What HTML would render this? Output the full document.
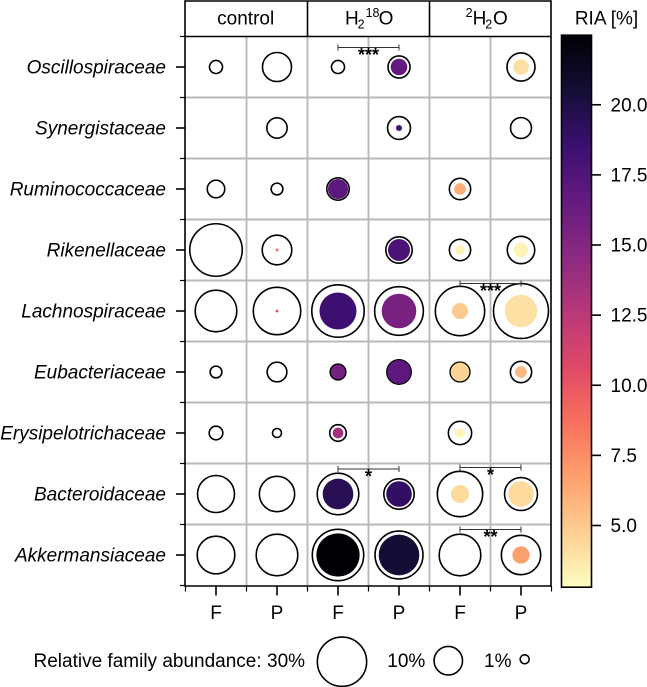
<!DOCTYPE html>
<html lang="en">
<head>
<meta charset="utf-8">
<title>Relative isotope abundance by bacterial family</title>
<style>
html,body{margin:0;padding:0;background:#fff;}
svg{display:block;font-family:"Liberation Sans",Arial,sans-serif;fill:#000;}
</style>
</head>
<body>
<svg id="chart" width="647" height="687" viewBox="0 0 647 687" xmlns="http://www.w3.org/2000/svg">
  <defs>
    <linearGradient id="magma-gradient" x1="0" y1="1" x2="0" y2="0"></linearGradient>
  </defs>
  <g id="grid"></g>
  <g id="marks"></g>
  <g id="axes"></g>
  <g>
    <line x1="185" y1="1" x2="551" y2="1" stroke="#000" stroke-width="1.6"/>
    <line x1="185" y1="36.5" x2="551" y2="36.5" stroke="#000" stroke-width="1.6"/>
    <line x1="307.5" y1="1" x2="307.5" y2="36.5" stroke="#000" stroke-width="1.6"/>
    <line x1="429.5" y1="1" x2="429.5" y2="36.5" stroke="#000" stroke-width="1.6"/>
    <text x="245.7" y="24.5" text-anchor="middle" font-size="19">control</text>
    <text font-size="19" y="24.5"><tspan x="345">H</tspan><tspan x="357.6" y="28.5" font-size="12.5">2</tspan><tspan x="365.6" y="17" font-size="12.5">18</tspan><tspan x="378.6" y="24.5">O</tspan></text>
    <text font-size="19" y="24.5"><tspan x="465.6" y="17" font-size="12.5">2</tspan><tspan x="472.6" y="24.5">H</tspan><tspan x="485.2" y="28.5" font-size="12.5">2</tspan><tspan x="493" y="24.5">O</tspan></text>
  </g>
  <g id="colorbar">
    <text x="606.5" y="24.5" text-anchor="middle" font-size="19">RIA [%]</text>
  </g>
  <g id="brackets"></g>
  <g id="legend">
    <text x="33.5" y="667" font-size="19">Relative family abundance:</text>
  </g>
</svg>
<script>
const families = ['Oscillospiraceae','Synergistaceae','Ruminococcaceae','Rikenellaceae','Lachnospiraceae','Eubacteriaceae','Erysipelotrichaceae','Bacteroidaceae','Akkermansiaceae'];
const sampleTypes = ['F','P','F','P','F','P'];
const abundance = [
  [2.1,10.4,2.1,6,null,9.7],
  [null,5.1,null,6.5,null,5.4],
  [3.8,1.7,6.2,null,5.6,null],
  [34,10.8,null,8.6,5.6,9.3],
  [21.4,27.7,33.9,29.3,30,37.3],
  [1.7,4.8,3,7.3,4.8,5.6],
  [2.3,1,3.4,null,6.7,null],
  [16.9,15.4,21.4,11.4,25.4,13.4],
  [17.5,21.4,32.6,28.4,21.4,19.1]
];
const labeledAbundance = [
  [null,null,null,3.4,null,3],
  [null,null,null,0.45,null,null],
  [0.05,null,5,null,1.7,null],
  [null,0.1,null,6,1.1,2.6],
  [null,0.1,16.9,14.8,3.2,13.1],
  [null,null,2.6,6.9,4.3,1.7],
  [null,null,1.4,null,1.2,null],
  [null,null,11.6,8.1,4,8.1],
  [null,null,23.2,20.4,null,3.7]
];
const ria = [
  [null,null,null,16.6,null,4],
  [null,null,null,18.2,null,null],
  [3,null,16.9,null,6.1,null],
  [null,8.7,null,17.8,3.2,3.2],
  [null,9.7,18.5,15.6,5,4],
  [null,null,15.8,16.8,4.6,5.75],
  [null,null,13.6,null,3.1,null],
  [null,null,19.5,19,4.3,4.3],
  [null,null,22.48,20.5,null,6.7]
];
const colorbarTicks = [5,7.5,10,12.5,15,17.5,20];
const colorbarTickLabels = ['5.0','7.5','10.0','12.5','15.0','17.5','20.0'];
const legendSizes = [30,10,1];
const legendLabels = ['30%','10%','1%'];
const sigRows = [0,4,7,7,8];
const sigStartCols = [2,4,2,4,4];
const sigEndCols = [3,5,3,5,5];
const sigLift = [0.32,0.45,0.41,0.434,0.418];
const sigStars = ['***','***','*','*','**'];
const riaMin = 2.8;
const riaMax = 22.48;
const magmaReversed = ['#fcfdbf','#fecf92','#fe9f6d','#f7705c','#de4968','#b73779','#8c2981','#641a80','#3b0f70','#140e36','#000004'];

const NS = 'http://www.w3.org/2000/svg';
const grid = document.getElementById('grid');
const marks = document.getElementById('marks');
const axes = document.getElementById('axes');
const colorbar = document.getElementById('colorbar');
const brackets = document.getElementById('brackets');
const legend = document.getElementById('legend');

function xScale(col){ return 216 + col * 61; }
function yScale(row){ return 67 + row * 61; }
function rScale(value){ return 4.5 * Math.sqrt(value); }
function cbScale(value){ return 525.5 - (value - 5) * 28.05; }
function hexToRgb(h){ return [1,3,5].map(i => parseInt(h.substr(i,2),16)); }
function colorScale(value){
  let t = (value - riaMin) / (riaMax - riaMin);
  t = Math.max(0, Math.min(1, t)) * (magmaReversed.length - 1);
  const i = Math.min(Math.floor(t), magmaReversed.length - 2);
  const f = t - i;
  const a = hexToRgb(magmaReversed[i]);
  const b = hexToRgb(magmaReversed[i + 1]);
  return 'rgb(' + a.map((c, k) => Math.round(c + (b[k] - c) * f)).join(',') + ')';
}
function make(parent, tag, attrs, text){
  const el = document.createElementNS(NS, tag);
  for (const k in attrs) el.setAttribute(k, attrs[k]);
  if (text !== undefined) el.textContent = text;
  parent.appendChild(el);
  return el;
}
function line(parent, x1, y1, x2, y2, stroke, width){
  return make(parent, 'line', {x1, y1, x2, y2, stroke, 'stroke-width': width});
}

/* grid */
for (let c = 1; c < sampleTypes.length; c++) {
  const gx = xScale(c) - 30.5;
  const el = line(grid, gx, 36.5, gx, 586, '#b9b9b9', 1.9);
  
  
}
for (let r = 1; r < families.length; r++) {
  const gy = yScale(r) - 30.5;
  const el = line(grid, 185, gy, 551, gy, '#b9b9b9', 1.9);
  
  
}

/* bubbles */
families.forEach((family, r) => {
  sampleTypes.forEach((type, c) => {
    const total = abundance[r][c];
    if (total !== null) {
      const outer = make(marks, 'circle', {cx: xScale(c), cy: yScale(r), r: rScale(total), fill: '#fff', stroke: '#000', 'stroke-width': 1.6});
      
      
    }
    const labeled = labeledAbundance[r][c];
    if (labeled !== null && ria[r][c] !== null) {
      const inner = make(marks, 'circle', {cx: xScale(c), cy: yScale(r), r: rScale(labeled), fill: colorScale(ria[r][c])});
      
      
    }
  });
});

/* axes */
const spineLeft = line(axes, 185, 0.3, 185, 586.8, '#000', 1.6);


const spineRight = line(axes, 551, 0.3, 551, 586.8, '#000', 1.6);


const spineBottom = line(axes, 185, 586, 551, 586, '#000', 1.6);



families.forEach((family, r) => {
  const tick = line(axes, 176, yScale(r), 185, yScale(r), '#000', 1.6);
  
  
  const label = make(axes, 'text', {x: 166, y: yScale(r) + 6.5, 'text-anchor': 'end', 'font-size': 19, 'font-style': 'italic'}, family);
  
  
});
for (let r = 0; r <= families.length; r++) {
  const my = yScale(r) - 30.5;
  const tick = line(axes, 180, my, 185, my, '#000', 1.2);
  
  
}
sampleTypes.forEach((type, c) => {
  const tick = line(axes, xScale(c), 586, xScale(c), 595.5, '#000', 1.6);
  
  
  const label = make(axes, 'text', {x: xScale(c), y: 619, 'text-anchor': 'middle', 'font-size': 19}, type);
  
  
});
for (let c = 0; c <= sampleTypes.length; c++) {
  const mx = xScale(c) - 30.5;
  const tick = line(axes, mx, 586, mx, 591.5, '#000', 1.2);
  
  
}

/* colorbar */
const gradient = document.getElementById('magma-gradient');
magmaReversed.forEach((col, i) => {
  make(gradient, 'stop', {offset: (i / (magmaReversed.length - 1) * 100) + '%', 'stop-color': col});
});
const cbTop = cbScale(riaMax);
const cbBottom = cbScale(riaMin);
const cbRect = make(colorbar, 'rect', {x: 561.5, y: cbTop, width: 30, height: cbBottom - cbTop, fill: 'url(#magma-gradient)', stroke: '#000', 'stroke-width': 1.6});


colorbarTicks.forEach((value, i) => {
  const tick = line(colorbar, 591.5, cbScale(value), 601, cbScale(value), '#000', 1.6);
  
  
  const label = make(colorbar, 'text', {x: 610.5, y: cbScale(value) + 6.5, 'font-size': 19}, colorbarTickLabels[i]);
  
  
});

/* significance brackets */
sigStars.forEach((stars, i) => {
  const x1 = xScale(sigStartCols[i]);
  const x2 = xScale(sigEndCols[i]);
  const by = yScale(sigRows[i] - sigLift[i]);
  const g = make(brackets, 'g', {stroke: '#333', 'stroke-width': 1});
  
  
  line(g, x1, by, x2, by, '#333', 1);
  line(g, x1, by - 3, x1, by + 3, '#333', 1);
  line(g, x2, by - 3, x2, by + 3, '#333', 1);
  const label = make(brackets, 'text', {x: (x1 + x2) / 2, y: by + 13.5, 'text-anchor': 'middle', 'font-size': 18, 'font-weight': 'bold'}, stars);
  
  
});

/* size legend */
const legendCircleX = [342, 448.3, 524.7];
const legendCircleY = [661.7, 660.7, 659.3];
const legendTextX = [267, 387.3, 484];
legendSizes.forEach((size, i) => {
  const label = make(legend, 'text', {x: legendTextX[i], y: 667, 'font-size': 19}, legendLabels[i]);
  
  
  const c = make(legend, 'circle', {cx: legendCircleX[i], cy: legendCircleY[i], r: rScale(size), fill: '#fff', stroke: '#000', 'stroke-width': 1.6});
  
  
});
</script>
</body>
</html>
